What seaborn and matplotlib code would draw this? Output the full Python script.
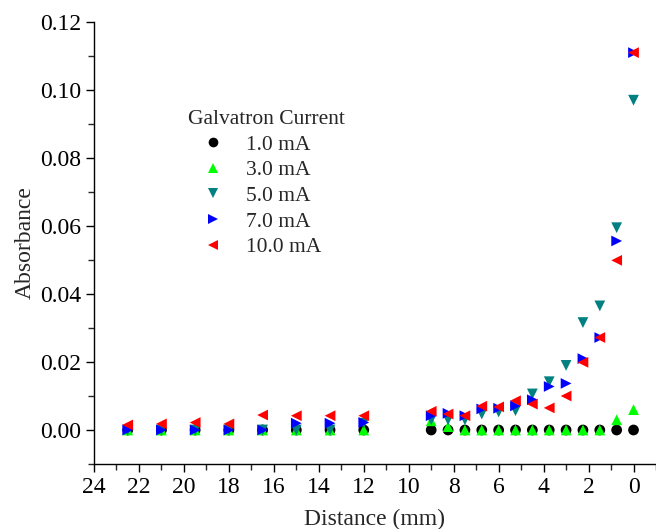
import matplotlib
matplotlib.use("Agg")
import matplotlib.pyplot as plt
from matplotlib.ticker import MultipleLocator
import seaborn as sns
import pandas as pd

# Distance from the cathode (mm)
distance = [22.5, 21, 19.5, 18, 16.5, 15, 13.5, 12,
            9, 8.25, 7.5, 6.75, 6, 5.25, 4.5, 3.75, 3, 2.25, 1.5, 0.75, 0]

# Absorbance for each galvatron current
abs_1mA = [0, 0, 0, 0, 0, 0, 0, 0,
           0, 0, 0, 0, 0, 0, 0, 0, 0, 0, 0, 0, 0]
abs_3mA = [0, 0, 0, 0, 0, 0, 0, 0,
           0.0027, 0.001, 0, 0, 0, 0, 0, 0, 0, 0, 0, 0.003, 0.006]
abs_5mA = [0, 0, 0, 0, 0, 0, 0, 0.002,
           0.003, 0.003, 0.003, 0.0047, 0.0053, 0.0057, 0.0106, 0.0142,
           0.019, 0.0316, 0.0365, 0.0595, 0.097]
abs_7mA = [0, 0, 0, 0, 0, 0.002, 0.002, 0.0022,
           0.0042, 0.0049, 0.0042, 0.0062, 0.0064, 0.0071, 0.0089, 0.0128,
           0.0137, 0.021, 0.0272, 0.0556, 0.111]
abs_10mA = [0.0015, 0.0018, 0.0022, 0.0018, 0.0044, 0.0042, 0.0042, 0.0042,
            0.0055, 0.0047, 0.0042, 0.007, 0.0068, 0.0086, 0.0076, 0.0065,
            0.010, 0.0199, 0.0272, 0.0499, 0.111]

currents = ["1.0 mA", "3.0 mA", "5.0 mA", "7.0 mA", "10.0 mA"]
series = [abs_1mA, abs_3mA, abs_5mA, abs_7mA, abs_10mA]
colors = ["#000000", "#00ff00", "#008080", "#0000ff", "#ff0000"]
markers = ["o", "^", "v", ">", "<"]

df = pd.concat([pd.DataFrame({"Distance": distance, "Absorbance": vals, "Current": c})
                for c, vals in zip(currents, series)], ignore_index=True)

sns.set_style("ticks")
plt.rcParams["font.family"] = ["Liberation Serif", "DejaVu Serif"]

fig = plt.figure(figsize=(6.56, 5.29), dpi=100)
ax = fig.add_axes([94 / 656, 1 - 464 / 529, 1 - 94 / 656, (464 - 22) / 529])

sns.scatterplot(data=df, x="Distance", y="Absorbance", hue="Current", style="Current",
                palette=dict(zip(currents, colors)), markers=dict(zip(currents, markers)),
                s=60, linewidth=0, ax=ax)

ax.set_xlim(24, -1)
ax.set_ylim(-0.01, 0.12)
ax.xaxis.set_major_locator(MultipleLocator(2))
ax.xaxis.set_minor_locator(MultipleLocator(1))
ax.yaxis.set_major_locator(MultipleLocator(0.02))
ax.yaxis.set_minor_locator(MultipleLocator(0.01))
ax.yaxis.set_major_formatter(matplotlib.ticker.FormatStrFormatter("%.2f"))
ax.tick_params(which="major", direction="out", length=6, width=1, labelsize=17, colors="black")
ax.tick_params(which="minor", direction="out", length=4, width=1)
for side in ["top", "right"]:
    ax.spines[side].set_visible(False)
for side in ["left", "bottom"]:
    ax.spines[side].set_linewidth(1)
    ax.spines[side].set_color("black")

ax.set_xlabel("Distance (mm)", fontsize=17, labelpad=8)
ax.set_ylabel("Absorbance", fontsize=17, labelpad=3)

handles, labels = ax.get_legend_handles_labels()
ax.legend(handles, labels, title="Galvatron Current", frameon=False, fontsize=15.5,
          title_fontsize=15.5, loc="upper left", alignment="left",
          bbox_to_anchor=(188 / 656, 1 - 110 / 529), bbox_transform=fig.transFigure,
          borderpad=0, borderaxespad=0, handlelength=2.3, handletextpad=0.4,
          labelspacing=0.26, markerscale=0.9)

fig.savefig("out.png", dpi=100)
